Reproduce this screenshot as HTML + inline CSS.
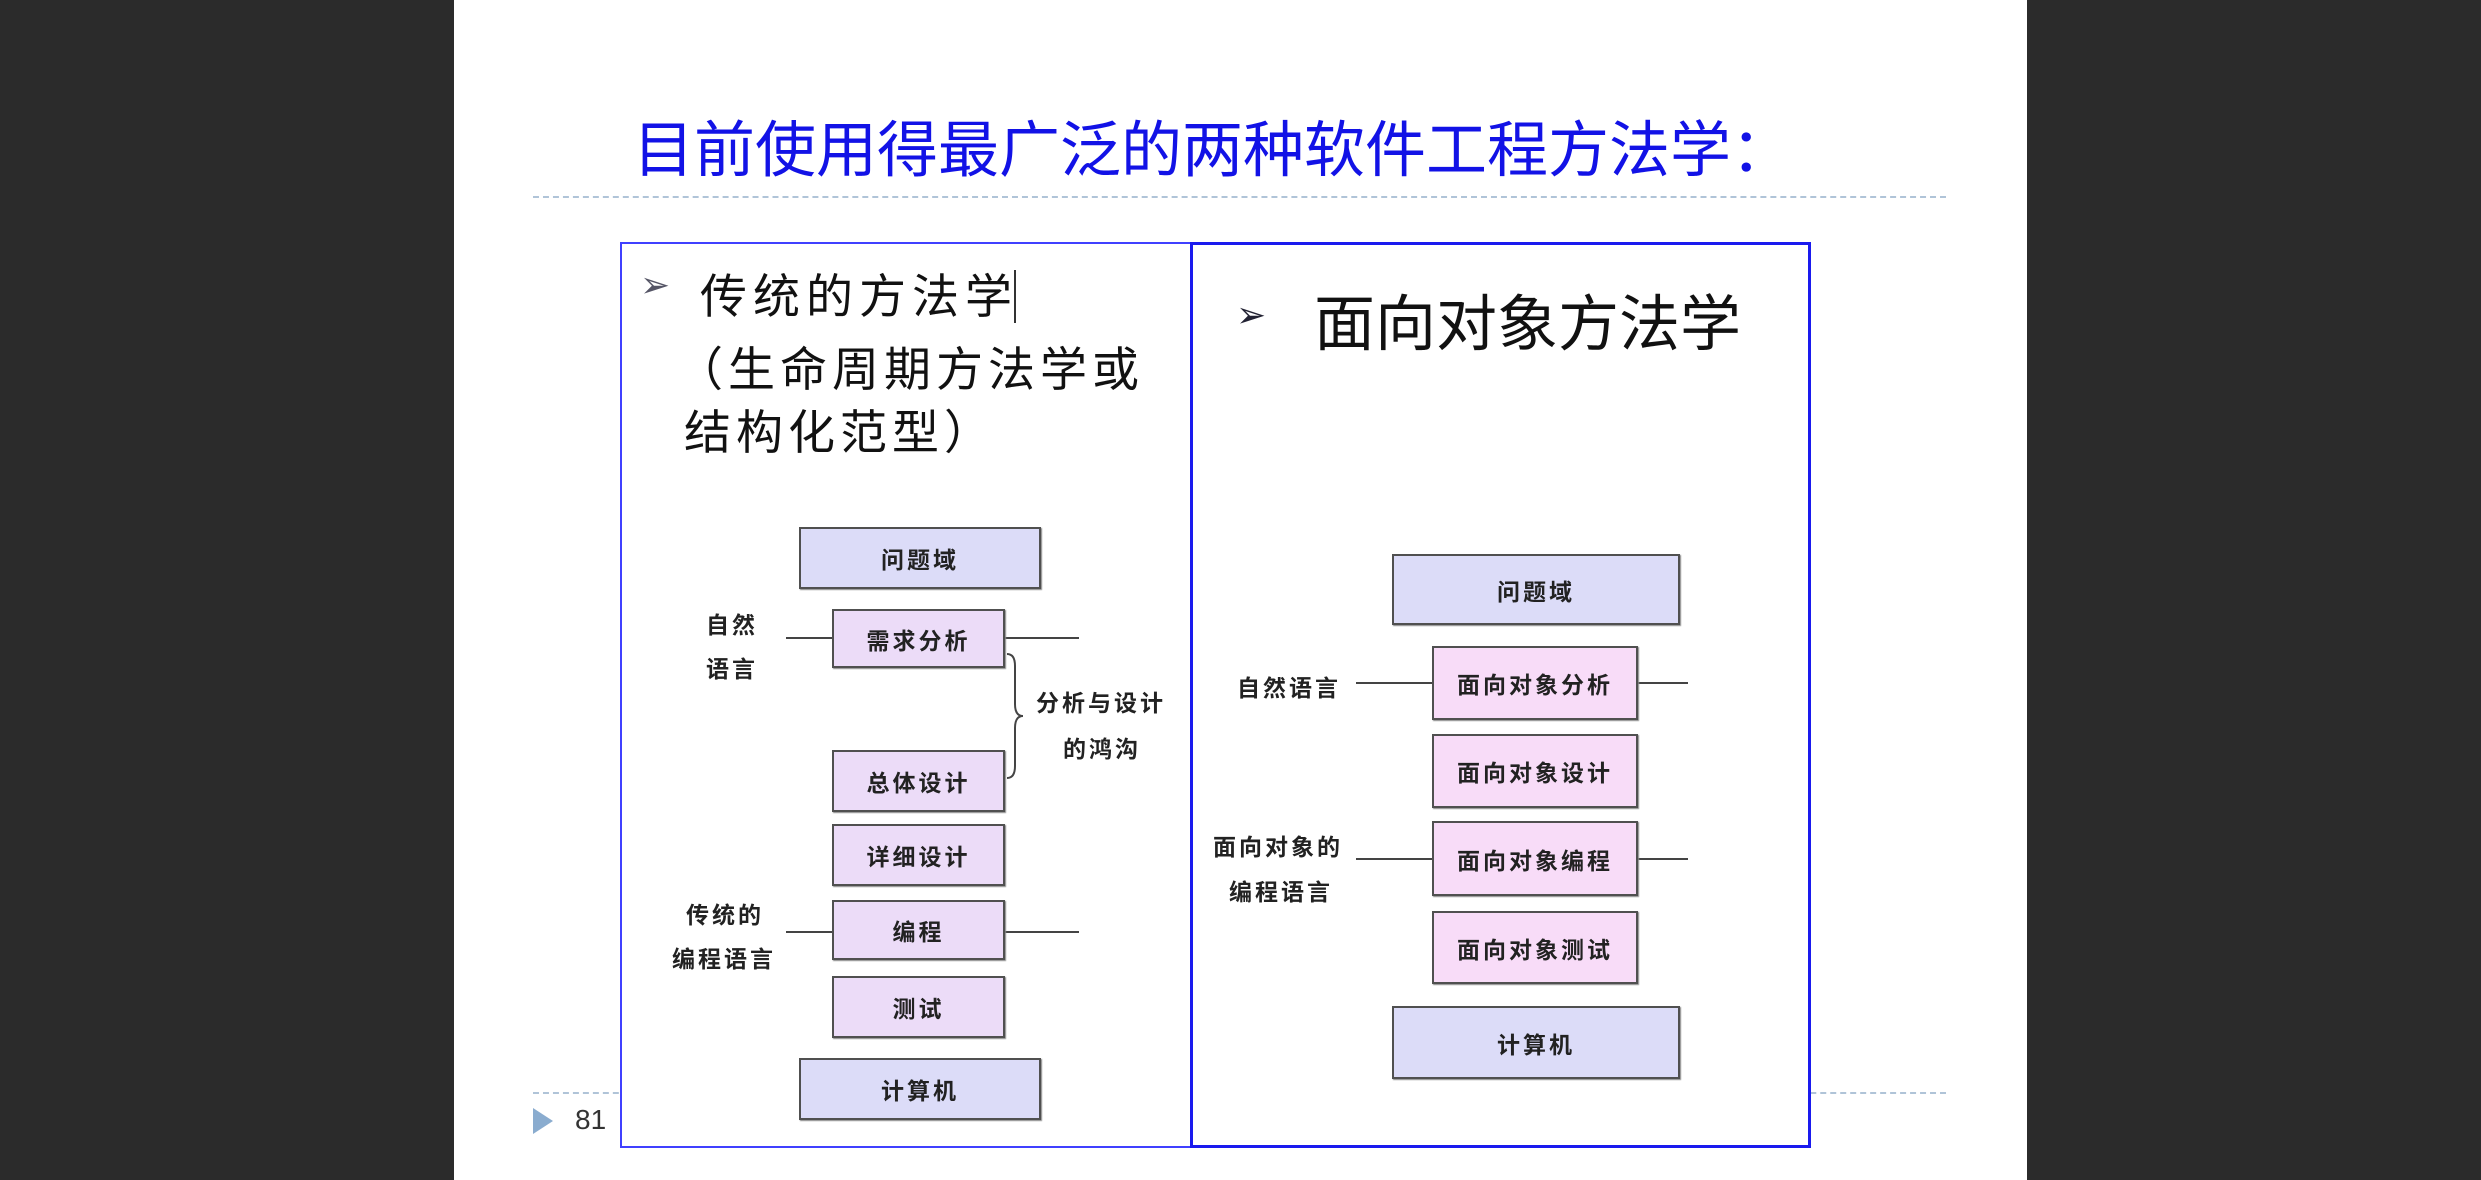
<!DOCTYPE html>
<html><head><meta charset="utf-8"><style>
*{margin:0;padding:0;box-sizing:border-box}
body{width:2481px;height:1180px;position:relative;background:#fff;overflow:hidden;font-family:"Liberation Sans","Noto Sans CJK SC",sans-serif}
.a{position:absolute}
.dark{background:#2b2b2b;top:0;height:1180px}
.t{position:absolute;white-space:nowrap}
.bx{position:absolute;border:2px solid #505050;display:flex;align-items:center;justify-content:center;font-weight:bold;font-size:23px;letter-spacing:3px;color:#222;box-shadow:1px 1px 1px #888}
.b1{background:#dcdcf8}
.b2{background:#ecdcf8}
.b3{background:#f8dcf8}
.ln{position:absolute;height:2px;background:#444}
.lb{position:absolute;white-space:nowrap;font-weight:bold;font-size:23px;letter-spacing:3px;color:#222}
</style></head><body>
<div class="a dark" style="left:0;width:454px"></div>
<div class="a dark" style="left:2027px;width:454px"></div>
<div class="t" style="left:633px;top:100px;font-size:61px;color:#1212e6">目前使用得最广泛的两种软件工程方法学：</div>
<div class="a" style="left:533px;top:196px;width:1413px;border-top:2px dashed #b0c4d8"></div>
<div class="a" style="left:533px;top:1092px;width:1413px;border-top:2px dashed #b0c4d8"></div>
<div class="a" style="left:533px;top:1108px;width:0;height:0;border-left:20px solid #8aaccf;border-top:13px solid transparent;border-bottom:13px solid transparent"></div>
<div class="t" style="left:575px;top:1104px;font-size:28px;color:#333">81</div>

<div class="a" style="left:620px;top:242px;width:572px;height:906px;border:2px solid #4040ff;background:#fff"></div>
<div class="a" style="left:1190px;top:242px;width:621px;height:906px;border:3px solid #1a1aee;background:#fff"></div>

<div class="t" style="left:640px;top:264px;font-size:36px;color:#556">➢</div>
<div class="t" style="left:700px;top:258px;font-size:47px;letter-spacing:6px;color:#111">传统的方法学<span style="border-left:2px solid #333;margin-left:-4px"></span></div>
<div class="t" style="left:676px;top:331px;font-size:47px;letter-spacing:5px;color:#111">（生命周期方法学或</div>
<div class="t" style="left:684px;top:394px;font-size:47px;letter-spacing:5px;color:#111">结构化范型）</div>

<div class="t" style="left:1236px;top:294px;font-size:36px;color:#223">➢</div>
<div class="t" style="left:1314px;top:274px;font-size:61px;color:#111">面向对象方法学</div>

<!-- left diagram -->
<div class="ln" style="left:786px;top:637px;width:293px"></div>
<div class="ln" style="left:786px;top:931px;width:293px"></div>
<div class="bx b1" style="left:799px;top:527px;width:242px;height:62px">问题域</div>
<div class="bx b2" style="left:832px;top:609px;width:173px;height:59px">需求分析</div>
<div class="bx b2" style="left:832px;top:750px;width:173px;height:62px">总体设计</div>
<div class="bx b2" style="left:832px;top:824px;width:173px;height:62px">详细设计</div>
<div class="bx b2" style="left:832px;top:900px;width:173px;height:60px">编程</div>
<div class="bx b2" style="left:832px;top:976px;width:173px;height:62px">测试</div>
<div class="bx b1" style="left:799px;top:1058px;width:242px;height:62px">计算机</div>
<svg class="a" style="left:1005px;top:652px" width="30" height="130"><path d="M2 2 Q10 2 10 14 L10 52 Q10 64 18 64 Q10 64 10 76 L10 114 Q10 126 2 126" fill="none" stroke="#444" stroke-width="2"/></svg>
<div class="lb" style="left:706px;top:606px">自然</div>
<div class="lb" style="left:706px;top:650px">语言</div>
<div class="lb" style="left:1036px;top:684px">分析与设计</div>
<div class="lb" style="left:1063px;top:730px">的鸿沟</div>
<div class="lb" style="left:686px;top:896px">传统的</div>
<div class="lb" style="left:672px;top:940px">编程语言</div>

<!-- right diagram -->
<div class="ln" style="left:1356px;top:682px;width:332px"></div>
<div class="ln" style="left:1356px;top:858px;width:332px"></div>
<div class="bx b1" style="left:1392px;top:554px;width:288px;height:71px">问题域</div>
<div class="bx b3" style="left:1432px;top:646px;width:206px;height:74px">面向对象分析</div>
<div class="bx b3" style="left:1432px;top:734px;width:206px;height:74px">面向对象设计</div>
<div class="bx b3" style="left:1432px;top:821px;width:206px;height:75px">面向对象编程</div>
<div class="bx b3" style="left:1432px;top:911px;width:206px;height:73px">面向对象测试</div>
<div class="bx b1" style="left:1392px;top:1006px;width:288px;height:73px">计算机</div>
<div class="lb" style="left:1237px;top:669px">自然语言</div>
<div class="lb" style="left:1213px;top:828px">面向对象的</div>
<div class="lb" style="left:1229px;top:873px">编程语言</div>
</body></html>
